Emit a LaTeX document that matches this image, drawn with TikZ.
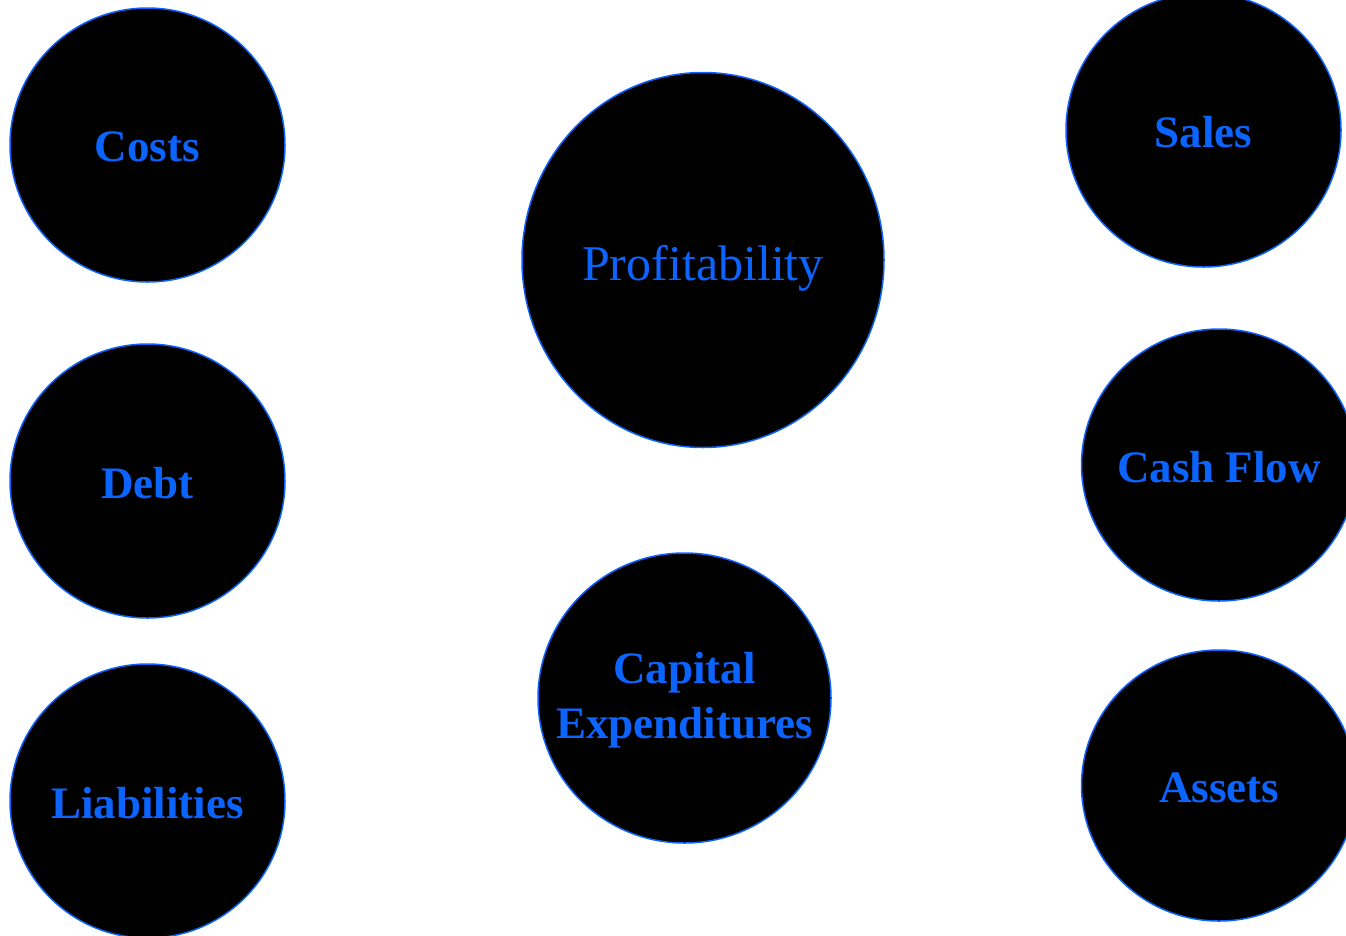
\documentclass[tikz,border=0pt]{standalone}
\usepackage{fontspec}
\setmainfont{Liberation Serif}
\usepackage{xcolor}
\usepackage{tikz}
\usetikzlibrary{shapes.geometric}
\definecolor{bubbleblue}{RGB}{12,100,255}

\begin{document}
\begin{tikzpicture}[x=1pt,y=-1pt,
 bubble/.style={ellipse,draw=bubbleblue,fill=black,line width=1.5pt,inner sep=0pt,
  minimum width=275pt,minimum height=274pt},
 tag/.style={text=bubbleblue,align=center,inner sep=0pt,yshift=-2pt,
  font=\bfseries\fontsize{45}{55}\selectfont},
 bigtag/.style={tag,font=\fontsize{50}{58}\selectfont,yshift=-6pt}]
 \useasboundingbox (0,0) rectangle (1346,935);
 % left column
 \node[bubble,label={[tag]center:Costs}] (costs) at (147.5,145) {};
 \node[bubble,label={[tag]center:Debt}] (debt) at (147.5,481) {};
 \node[bubble,label={[tag]center:Liabilities}] (liab) at (147.5,801) {};
 % middle
 \node[bubble,minimum width=362pt,minimum height=375pt,
  label={[bigtag]center:Profitability}] (profit) at (703,260) {};
 \node[bubble,minimum width=293pt,minimum height=290pt,
  label={[tag]center:Capital\\ Expenditures}] (capex) at (684.5,698) {};
 % right column
 \node[bubble,label={[tag]center:Sales}] (sales) at (1203.5,130) {};
 \node[bubble,minimum height=272pt,label={[tag]center:Cash Flow}] (cash) at (1219,465) {};
 \node[bubble,minimum height=271pt,label={[tag]center:Assets}] (assets) at (1219,785.5) {};
\end{tikzpicture}
\end{document}
